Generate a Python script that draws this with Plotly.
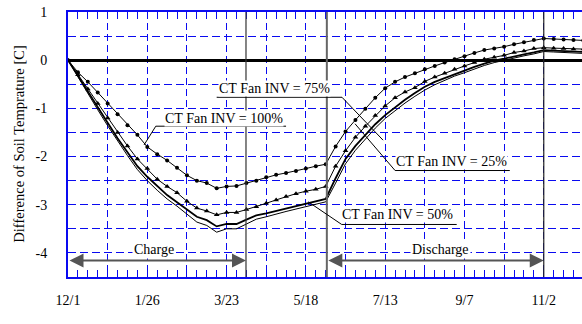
import plotly.graph_objects as go

# weekly samples, days from 12/1
days = [7 * k for k in range(53)]

inv100 = [0, -0.25, -0.45, -0.67, -0.90, -1.12, -1.35, -1.55, -1.80, -1.95,
          -2.08, -2.23, -2.39, -2.50, -2.55, -2.66, -2.62, -2.61, -2.55, -2.50,
          -2.43, -2.38, -2.34, -2.30, -2.25, -2.20, -2.16, -1.79, -1.48, -1.24,
          -1.01, -0.78, -0.58, -0.45, -0.35, -0.27, -0.19, -0.12, -0.05, 0.02,
          0.08, 0.15, 0.21, 0.24, 0.28, 0.33, 0.37, 0.42, 0.45, 0.44,
          0.43, 0.42, 0.41]
inv75 = [0, -0.30, -0.60, -0.90, -1.20, -1.50, -1.78, -2.05, -2.25, -2.47,
         -2.62, -2.75, -2.93, -3.07, -3.13, -3.21, -3.16, -3.16, -3.10, -3.04,
         -2.97, -2.90, -2.83, -2.77, -2.72, -2.68, -2.62, -2.20, -1.88, -1.60,
         -1.37, -1.15, -0.95, -0.78, -0.66, -0.57, -0.44, -0.35, -0.27, -0.19,
         -0.12, -0.05, 0.02, 0.06, 0.10, 0.16, 0.19, 0.24, 0.26, 0.25,
         0.24, 0.23, 0.23]
inv25 = [0, -0.33, -0.65, -0.98, -1.30, -1.62, -1.92, -2.20, -2.42, -2.62,
         -2.80, -2.95, -3.10, -3.25, -3.32, -3.45, -3.40, -3.40, -3.31, -3.22,
         -3.18, -3.13, -3.08, -3.03, -2.98, -2.93, -2.88, -2.45, -2.05, -1.78,
         -1.55, -1.33, -1.14, -0.97, -0.82, -0.68, -0.55, -0.45, -0.37, -0.29,
         -0.22, -0.14, -0.07, -0.01, 0.03, 0.08, 0.12, 0.16, 0.21, 0.20,
         0.19, 0.18, 0.17]
inv50 = [0, -0.35, -0.70, -1.03, -1.36, -1.68, -1.98, -2.27, -2.50, -2.70,
         -2.88, -3.03, -3.20, -3.36, -3.43, -3.57, -3.50, -3.50, -3.40, -3.30,
         -3.25, -3.19, -3.14, -3.09, -3.04, -2.99, -2.94, -2.55, -2.15, -1.87,
         -1.63, -1.41, -1.21, -1.04, -0.89, -0.75, -0.62, -0.51, -0.42, -0.33,
         -0.26, -0.18, -0.11, -0.05, 0.00, 0.05, 0.09, 0.13, 0.18, 0.17,
         0.16, 0.15, 0.14]

tick_days = [0, 56, 112, 168, 224, 280, 336]
tick_labels = ["12/1", "1/26", "3/23", "5/18", "7/13", "9/7", "11/2"]
y_labels = ["1", "0", "-1", "-2", "-3", "-4"]
y_label_vals = [1, 0, -1, -2, -3, -4]

FONT = "Liberation Serif"
BLUE = "#0a0af0"

fig = go.Figure()
fig.add_trace(go.Scatter(x=days, y=inv100, mode="lines+markers",
                         line=dict(color="black", width=1),
                         marker=dict(symbol="circle", size=4, color="black")))
fig.add_trace(go.Scatter(x=days, y=inv75, mode="lines+markers",
                         line=dict(color="black", width=1),
                         marker=dict(symbol="triangle-up", size=5, color="black")))
fig.add_trace(go.Scatter(x=days, y=inv25, mode="lines",
                         line=dict(color="black", width=1.8)))
fig.add_trace(go.Scatter(x=days, y=inv50, mode="lines",
                         line=dict(color="black", width=1)))
# invisible trace to carry the top (mirror) tick axis
fig.add_trace(go.Scatter(x=[days[0]], y=[inv100[0]], xaxis="x2", mode="markers",
                         marker=dict(opacity=0), hoverinfo="skip"))

# grid positions (every 28 days / 0.5)
xgrid = list(range(0, 364, 28))
xgrid_text = [tick_labels[tick_days.index(d)] if d in tick_days else "" for d in xgrid]
ygrid = [1 - 0.5 * i for i in range(12)]
ygrid_text = [y_labels[y_label_vals.index(v)] if v in y_label_vals else "" for v in ygrid]

fig.update_layout(
    xaxis=dict(range=[0, 363], tickvals=xgrid, ticktext=xgrid_text, automargin=False,
               showgrid=True, gridcolor=BLUE, griddash="7px,4px", gridwidth=1,
               showline=True, linecolor=BLUE, linewidth=2, mirror=True,
               ticks="inside", ticklen=7, tickcolor=BLUE, tickwidth=1,
               minor=dict(dtick=7, tick0=0, ticks="inside", ticklen=7,
                          tickcolor=BLUE, tickwidth=1, showgrid=False),
               ticklabelstandoff=9, zeroline=False, ticklabeloverflow="allow",
               tickfont=dict(family=FONT, size=14, color="black")),
    xaxis2=dict(range=[0, 363], overlaying="x", side="top", tickvals=xgrid,
                ticktext=["" for _ in xgrid], showgrid=False, showline=False,
                ticks="inside", ticklen=7, tickcolor=BLUE, tickwidth=1,
                minor=dict(dtick=7, tick0=0, ticks="inside", ticklen=7,
                           tickcolor=BLUE, tickwidth=1, showgrid=False),
                zeroline=False, automargin=False),
    yaxis=dict(range=[-4.5, 1], tickvals=ygrid, ticktext=ygrid_text, automargin=False,
               showgrid=True, gridcolor=BLUE, griddash="8px,4px", gridwidth=1,
               showline=True, linecolor=BLUE, linewidth=2, mirror=True,
               ticks="", zeroline=True, zerolinecolor="black", zerolinewidth=2.5,
               ticklabelstandoff=16, ticklabeloverflow="allow",
               tickfont=dict(family=FONT, size=14, color="black")),
)

fig.add_annotation(text="Difference of Soil Temprature [C]", xref="paper", yref="paper",
                   x=-0.097, y=0.5, textangle=-90, showarrow=False,
                   xanchor="center", yanchor="middle",
                   font=dict(family=FONT, size=14.5, color="black"))

# vertical period lines
for xv, col, w in [(125.7, "#333", 1.2), (182.8, "#666", 2), (336, "#222", 1.2)]:
    fig.add_shape(type="line", x0=xv, x1=xv, y0=-4.5, y1=1, xref="x", yref="y",
                  line=dict(color=col, width=w))

# charge / discharge arrows
for x0, x1, txt, tx in [(0, 125.7, "Charge", 61), (182.8, 336, "Discharge", 263)]:
    fig.add_annotation(x=x1, y=-4.16, ax=x0, ay=-4.16, axref="x", ayref="y",
                       xref="x", yref="y", text="", showarrow=True,
                       arrowhead=2, arrowside="end+start", arrowsize=1.4,
                       arrowwidth=2, arrowcolor="#555")
    fig.add_annotation(x=tx, y=-3.92, text=txt, showarrow=False,
                       font=dict(family=FONT, size=14, color="black"), bgcolor="white")

# label callouts: text, text pos, underline x-range & y, leader start x, leader end
labels = [
    ("CT Fan INV = 100%", 110, -1.20, 62, 154, -1.37, 62, 53.7, -1.76),
    ("CT Fan INV = 75%", 146, -0.58, 105, 193.5, -0.77, 193.5, 222.5, -1.66),
    ("CT Fan INV = 25%", 271, -2.11, 231, 312, -2.29, 231, 202.7, -1.32),
    ("CT Fan INV = 50%", 233, -3.21, 193.3, 274.5, -3.41, 193.3, 169.7, -2.94),
]
for txt, tx, ty, ux0, ux1, uy, lx0, lx1, ly1 in labels:
    fig.add_annotation(x=tx, y=ty, text=txt, showarrow=False, yanchor="middle",
                       bgcolor="white", borderpad=0,
                       font=dict(family=FONT, size=14, color="black"))
    fig.add_shape(type="line", x0=ux0, x1=ux1, y0=uy, y1=uy, xref="x", yref="y",
                  line=dict(color="black", width=1))
    fig.add_shape(type="line", x0=lx0, x1=lx1, y0=uy, y1=ly1, xref="x", yref="y",
                  line=dict(color="black", width=1))

fig.update_layout(width=582, height=324, margin=dict(l=68, r=0, t=12, b=47),
                  plot_bgcolor="white", paper_bgcolor="white", showlegend=False)

fig.write_html("out.html", config={"displayModeBar": False},
               post_script="document.body.style.margin='0px';document.body.style.overflow='hidden';")
